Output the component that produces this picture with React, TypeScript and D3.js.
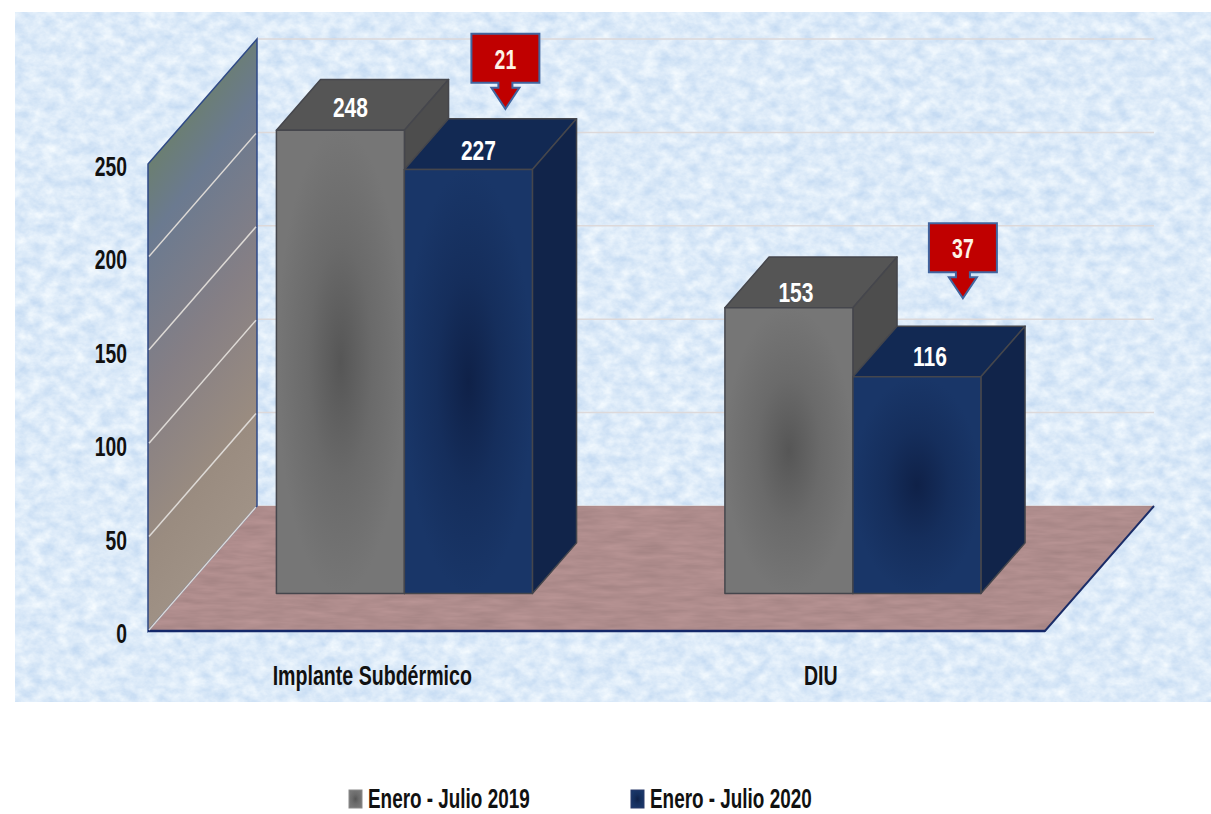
import React from 'react';
import * as d3 from 'd3';

const categories = ['Implante Subdérmico', 'DIU'];
const seriesNames = ['Enero - Julio 2019', 'Enero - Julio 2020'];
const values2019 = [248, 153];
const values2020 = [227, 116];
const differences = [21, 37];
const yTicks = [0, 50, 100, 150, 200, 250];

const FONT = '"Liberation Sans", sans-serif';

// oblique projection of the 3d box
const depthX = 109;
const depthY = -125;
const barGapX = 0.295; // share of the depth in front of the bars
const barGapY = 0.3;
const barDepth = 0.405;

const y = d3.scaleLinear().domain([0, 250]).range([631, 164]);
const x0 = d3.scaleBand().domain(categories).range([148, 1045]);
const x1 = d3.scaleBand().domain(seriesNames).range([0, x0.bandwidth()]).paddingInner(0).paddingOuter(0.752);

const poly = (pts: [number, number][]) => d3.line()(pts) + 'Z';

// tall condensed text, the source picture is stretched
const Txt = ({ x, y, size = 28, sx = 0.69, anchor = 'middle', fill = '#111', children }: any) => (
  <text
    transform={`translate(${x},${y}) scale(${sx},1)`}
    textAnchor={anchor}
    fontFamily={FONT}
    fontWeight="bold"
    fontSize={size}
    fill={fill}
  >
    {children}
  </text>
);

const Box = ({ left, width, value, front, top, side }: any) => {
  const baseX = left + depthX * barGapX;
  const baseY = y(0) + depthY * barGapY;
  const topY = baseY - (y(0) - y(value));
  const dx = depthX * barDepth;
  const dy = depthY * barDepth;
  const right = baseX + width;
  const edge = { stroke: '#45464c', strokeWidth: 1.5, strokeLinejoin: 'round' as const };
  return (
    <g>
      <path d={poly([[baseX, topY], [right, topY], [right + dx, topY + dy], [baseX + dx, topY + dy]])} fill={top} {...edge} />
      <path d={poly([[right, topY], [right + dx, topY + dy], [right + dx, baseY + dy], [right, baseY]])} fill={side} {...edge} />
      <rect x={baseX} y={topY} width={width} height={baseY - topY} fill={front} {...edge} />
    </g>
  );
};

const Callout = ({ cx, tip, value }: any) => {
  const w = 34;
  const top = tip - 75;
  const bottom = tip - 26;
  const shoulder = tip - 21;
  const d = poly([
    [cx - w, top], [cx + w, top], [cx + w, bottom], [cx + 7, bottom], [cx + 7, shoulder], [cx + 14, shoulder],
    [cx, tip], [cx - 14, shoulder], [cx - 7, shoulder], [cx - 7, bottom], [cx - w, bottom],
  ]);
  return (
    <g>
      <path d={d} fill="#c00000" stroke="#41659f" strokeWidth={2} />
      <Txt x={cx} y={top + 35} size={27} sx={0.72} fill="#fdf3e6">{value}</Txt>
    </g>
  );
};

export default function App() {
  const bw = x1.bandwidth();
  const right = x0.range()[1];
  const left = x0.range()[0];

  return (
    <svg width={1211} height={814} style={{ position: 'absolute', left: 0, top: 0, background: '#fff' }}>
      <defs>
        <filter id="paper" x="0" y="0" width="100%" height="100%" colorInterpolationFilters="sRGB">
          <feTurbulence type="fractalNoise" baseFrequency="0.07 0.09" numOctaves={4} seed={7} />
          <feColorMatrix values="0.24 0 0 0 0.745  0.16 0 0 0 0.84  0.06 0 0 0 0.945  0 0 0 0 1" />
        </filter>
        <filter id="felt" x="0" y="0" width="100%" height="100%" colorInterpolationFilters="sRGB">
          <feTurbulence type="fractalNoise" baseFrequency="0.03 0.2" numOctaves={3} seed={3} />
          <feColorMatrix values="0.1 0 0 0 0.635  0.08 0 0 0 0.51  0.08 0 0 0 0.51  0 0 0 0 1" />
          <feComposite in2="SourceGraphic" operator="in" />
        </filter>
        <linearGradient id="wall" x1="0.1" y1="0" x2="0.35" y2="1">
          <stop offset="0" stopColor="#678350" />
          <stop offset="0.14" stopColor="#6b8068" />
          <stop offset="0.3" stopColor="#6b7a90" />
          <stop offset="0.55" stopColor="#857f85" />
          <stop offset="0.8" stopColor="#9a8c80" />
          <stop offset="1" stopColor="#a29488" />
        </linearGradient>
        <radialGradient id="grey" cx="0.5" cy="0.5" r="0.5">
          <stop offset="0" stopColor="#565656" />
          <stop offset="0.5" stopColor="#6a6a6a" />
          <stop offset="1" stopColor="#767676" />
        </radialGradient>
        <radialGradient id="blue" cx="0.5" cy="0.5" r="0.5">
          <stop offset="0" stopColor="#0f2148" />
          <stop offset="0.5" stopColor="#152e5c" />
          <stop offset="1" stopColor="#193668" />
        </radialGradient>
      </defs>

      <rect x={15} y={12} width={1196} height={690} filter="url(#paper)" />

      {/* back wall gridlines */}
      {yTicks.map(t => (
        <line key={t} x1={left + depthX} x2={right + depthX} y1={y(t) + depthY} y2={y(t) + depthY} stroke="#ddd9da" strokeWidth={1.5} />
      ))}

      {/* floor */}
      <path
        d={poly([[left, y(0)], [right, y(0)], [right + depthX, y(0) + depthY], [left + depthX, y(0) + depthY]])}
        fill="#000"
        filter="url(#felt)"
      />
      <path
        d={d3.line()([[left, y(0)], [right, y(0)], [right + depthX, y(0) + depthY]]) as string}
        fill="none"
        stroke="#1b2d68"
        strokeWidth={2}
      />

      {/* side wall */}
      <path
        d={poly([[left, y(0)], [left, y(250)], [left + depthX, y(250) + depthY], [left + depthX, y(0) + depthY]])}
        fill="url(#wall)"
        stroke="#2f4a86"
        strokeWidth={1.5}
      />
      <line x1={left} x2={right} y1={y(0)} y2={y(0)} stroke="#14286a" strokeWidth={2.5} />
      {yTicks.slice(0, -1).map(t => (
        <line key={t} x1={left + 1} x2={left + depthX - 1} y1={y(t) - 1} y2={y(t) + depthY + 1} stroke="#dedad6" strokeWidth={1.5} />
      ))}

      {yTicks.map(t => (
        <Txt key={t} x={127} y={y(t) + 12} anchor="end">{t}</Txt>
      ))}

      {categories.map((c, i) => {
        const bandLeft = x0(c) as number;
        const a = bandLeft + (x1(seriesNames[0]) as number);
        const b = bandLeft + (x1(seriesNames[1]) as number);
        return (
          <g key={c}>
            <Box left={a} width={bw} value={values2019[i]} front="url(#grey)" top="#555555" side="#4d4d4d" />
            <Box left={b} width={bw} value={values2020[i]} front="url(#blue)" top="#122953" side="#11244a" />
            <Txt x={bandLeft + x0.bandwidth() / 2} y={685} sx={0.7}>{c}</Txt>
          </g>
        );
      })}

      {/* value labels sit on the top faces */}
      {categories.map((c, i) => {
        const bandLeft = x0(c) as number;
        const baseY = y(0) + depthY * barGapY;
        const labelDx = [[0, 0], [-3, 3]][i];
        const labelDy = [[-13, -9], [-6, -11]][i];
        const labelY = (v: number) => baseY - (y(0) - y(v));
        const a = bandLeft + (x1(seriesNames[0]) as number) + depthX * barGapX + bw / 2 + 10;
        const b = bandLeft + (x1(seriesNames[1]) as number) + depthX * barGapX + bw / 2 + 10;
        return (
          <g key={c}>
            <Txt x={a + labelDx[0]} y={labelY(values2019[i]) + labelDy[0]} sx={0.75} fill="#fff">{values2019[i]}</Txt>
            <Txt x={b + labelDx[1]} y={labelY(values2020[i]) + labelDy[1]} sx={0.75} fill="#fff">{values2020[i]}</Txt>
          </g>
        );
      })}

      {/* difference callouts */}
      {categories.map((c, i) => {
        const bandRight = (x0(c) as number) + (x1(seriesNames[1]) as number) + bw + depthX * barGapX;
        const topBack = y(0) + depthY * barGapY - (y(0) - y(values2020[i])) + depthY * barDepth;
        const dx = [-27, -18][i];
        const gap = [10, 28][i];
        return <Callout key={c} cx={bandRight + dx} tip={topBack - gap} value={differences[i]} />;
      })}

      {/* legend */}
      {seriesNames.map((s, i) => {
        const lx = 349 + i * 282;
        return (
          <g key={s}>
            <rect x={lx} y={790} width={13} height={18} fill={i === 0 ? 'url(#grey)' : 'url(#blue)'} stroke={i === 0 ? '#8a8a8a' : '#2a3a6a'} strokeWidth={1} />
            <Txt x={lx + 19} y={808} anchor="start" sx={0.675}>{s}</Txt>
          </g>
        );
      })}
    </svg>
  );
}
